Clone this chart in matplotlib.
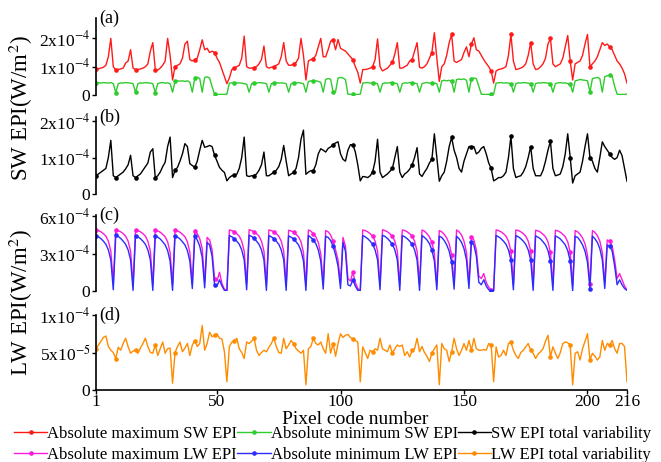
import numpy as np
import matplotlib
matplotlib.use('Agg')
import matplotlib.pyplot as plt

plt.rcParams['font.family'] = ['Liberation Serif', 'DejaVu Serif']
plt.rcParams['mathtext.fontset'] = 'stix'

# pixel code numbers 1..216
pixel = np.arange(1, 217)

# SW EPI, units of 1e-4 W/m2
sw_max = [
    0.92, 0.93, 0.95, 0.98, 1.05, 1.35, 2.00, 1.00, 0.88, 0.90,
    0.92, 0.95, 1.13, 1.20, 1.60, 0.95, 0.90, 0.90, 0.92, 0.95,
    1.00, 1.10, 1.55, 1.85, 0.90, 0.88, 0.95, 1.05, 1.20, 2.00,
    1.40, 0.53, 1.00, 1.05, 1.10, 1.30, 1.80, 1.90, 1.25, 1.20,
    1.25, 1.30, 1.60, 1.95, 1.60, 1.65, 1.50, 1.55, 1.50, 1.30,
    1.15, 0.90, 0.65, 0.40,
    0.60, 0.90, 0.95, 1.00, 1.05, 1.30, 2.08, 1.00, 0.95, 0.95,
    0.97, 1.00, 1.10, 1.25, 1.73, 1.00, 0.95, 0.98, 1.00, 1.05,
    1.10, 1.35, 1.85, 1.20, 1.05, 1.05, 1.10, 1.15, 1.30, 2.00,
    1.40, 0.53, 1.20, 1.25, 1.28, 1.40, 1.70, 2.00, 1.35, 1.35,
    1.60, 1.90, 1.95, 1.60, 1.96, 1.65, 1.60, 1.55, 1.45, 1.35,
    1.25, 1.00, 0.80, 0.42,
    0.90, 0.90, 0.92, 0.95, 1.00, 1.25, 1.98, 1.00, 0.85, 0.90,
    0.95, 1.05, 1.15, 1.45, 1.85, 0.95, 0.95, 1.00, 1.05, 1.20,
    1.25, 1.55, 1.85, 0.98, 0.95, 1.00, 1.10, 1.30, 1.50, 2.20,
    1.30, 0.48, 1.00, 1.10, 1.40, 1.85, 2.14, 1.20, 1.15, 1.20,
    1.25, 1.50, 1.70, 1.35, 1.80, 2.02, 1.60, 1.55, 1.40, 1.25,
    1.12, 1.00, 0.85, 0.42,
    0.85, 0.90, 0.92, 0.95, 1.00, 1.40, 2.14, 1.20, 0.90, 0.92,
    0.95, 1.00, 1.10, 1.40, 1.85, 1.10, 0.90, 0.92, 1.00, 1.10,
    1.30, 1.80, 2.00, 1.10, 1.00, 1.05, 1.10, 1.30, 1.70, 2.10,
    1.20, 0.53, 1.10, 1.15, 1.20, 1.40, 1.80, 2.14, 1.00, 1.10,
    1.20, 1.35, 1.60, 1.85, 1.75, 1.80, 1.70, 1.60, 1.40, 1.20,
    1.10, 0.95, 0.75, 0.42,
]
sw_min = [
    0.42, 0.43, 0.42, 0.44, 0.43, 0.42, 0.44, 0.40, 0.08, 0.40,
    0.43, 0.42, 0.44, 0.43, 0.42, 0.40, 0.10, 0.40, 0.43, 0.42,
    0.44, 0.43, 0.42, 0.40, 0.08, 0.40, 0.43, 0.44, 0.42, 0.43,
    0.40, 0.10, 0.48, 0.50, 0.49, 0.50, 0.48, 0.50, 0.45, 0.10,
    0.60, 0.63, 0.58, 0.10, 0.62, 0.64, 0.60, 0.30, 0.03, 0.02,
    0.02, 0.02, 0.02, 0.03,
    0.42, 0.43, 0.44, 0.42, 0.43, 0.42, 0.40, 0.38, 0.10, 0.40,
    0.43, 0.42, 0.44, 0.43, 0.42, 0.40, 0.10, 0.40, 0.43, 0.44,
    0.42, 0.43, 0.42, 0.40, 0.10, 0.40, 0.43, 0.42, 0.44, 0.42,
    0.40, 0.10, 0.48, 0.50, 0.49, 0.50, 0.48, 0.45, 0.10, 0.55,
    0.58, 0.56, 0.10, 0.12, 0.60, 0.62, 0.60, 0.55, 0.03, 0.02,
    0.02, 0.02, 0.02, 0.03,
    0.42, 0.43, 0.44, 0.42, 0.43, 0.42, 0.40, 0.10, 0.40, 0.43,
    0.42, 0.44, 0.43, 0.42, 0.40, 0.10, 0.40, 0.43, 0.42, 0.44,
    0.43, 0.42, 0.40, 0.10, 0.40, 0.43, 0.44, 0.42, 0.43, 0.42,
    0.40, 0.10, 0.50, 0.52, 0.50, 0.52, 0.48, 0.10, 0.55, 0.56,
    0.55, 0.57, 0.52, 0.10, 0.58, 0.60, 0.58, 0.30, 0.03, 0.02,
    0.02, 0.02, 0.02, 0.03,
    0.42, 0.43, 0.44, 0.42, 0.43, 0.42, 0.40, 0.10, 0.40, 0.43,
    0.42, 0.44, 0.43, 0.42, 0.40, 0.10, 0.40, 0.43, 0.42, 0.44,
    0.43, 0.42, 0.40, 0.10, 0.40, 0.43, 0.44, 0.42, 0.43, 0.40,
    0.38, 0.10, 0.50, 0.52, 0.55, 0.53, 0.52, 0.50, 0.10, 0.58,
    0.60, 0.62, 0.58, 0.10, 0.65, 0.68, 0.70, 0.66, 0.30, 0.03,
    0.02, 0.02, 0.02, 0.03,
]
sw_var = [
    0.50, 0.55, 0.60, 0.65, 0.70, 1.00, 1.47, 0.50, 0.45, 0.50,
    0.55, 0.60, 0.69, 0.80, 1.06, 0.50, 0.45, 0.50, 0.55, 0.65,
    0.75, 0.85, 1.15, 1.24, 0.45, 0.50, 0.60, 0.75, 0.87, 1.30,
    1.56, 0.45, 0.65, 0.73, 0.90, 1.10, 1.38, 1.30, 0.83, 0.78,
    0.73, 0.90, 1.20, 1.47, 1.28, 1.30, 1.33, 1.30, 1.06, 0.90,
    0.73, 0.65, 0.59, 0.36,
    0.45, 0.50, 0.52, 0.54, 0.70, 1.00, 1.56, 0.50, 0.48, 0.50,
    0.50, 0.55, 0.65, 0.80, 1.15, 0.50, 0.50, 0.55, 0.59, 0.65,
    0.75, 0.95, 1.33, 0.90, 0.50, 0.55, 0.59, 0.70, 1.00, 1.50,
    1.75, 0.54, 0.60, 0.64, 0.64, 0.80, 1.10, 1.24, 1.20, 1.15,
    1.25, 1.29, 1.35, 1.40, 1.43, 1.10, 0.95, 0.90, 1.20, 1.35,
    1.35, 1.15, 0.80, 0.36,
    0.48, 0.47, 0.45, 0.50, 0.60, 0.90, 1.50, 0.60, 0.45, 0.50,
    0.55, 0.62, 0.70, 1.00, 1.30, 0.60, 0.45, 0.55, 0.60, 0.68,
    0.80, 1.00, 1.27, 0.55, 0.48, 0.60, 0.70, 0.85, 0.95, 1.65,
    1.00, 0.35, 0.50, 0.60, 0.90, 1.30, 1.55, 1.20, 1.00, 0.70,
    0.60, 0.90, 1.10, 1.30, 1.30, 1.30, 1.10, 1.15, 1.25, 1.30,
    1.10, 0.85, 0.70, 0.36,
    0.40, 0.45, 0.45, 0.50, 0.60, 1.00, 1.58, 0.70, 0.45, 0.48,
    0.50, 0.60, 0.75, 1.00, 1.30, 0.70, 0.50, 0.50, 0.50, 0.65,
    0.90, 1.20, 1.45, 0.70, 0.50, 0.52, 0.55, 0.75, 1.10, 1.65,
    1.00, 0.30, 0.50, 0.55, 0.60, 0.90, 1.30, 1.65, 1.00, 0.90,
    0.70, 0.60, 1.00, 1.43, 1.30, 1.20, 1.10, 1.00, 0.95, 1.00,
    1.20, 1.05, 0.70, 0.35,
]

# LW EPI, units of 1e-4 W/m2
lw_max = [
    4.90, 4.85, 4.75, 4.60, 4.40, 4.00, 3.20, 0.60,
    4.92, 4.85, 4.75, 4.60, 4.40, 4.00, 3.20, 0.50,
    4.90, 4.85, 4.75, 4.60, 4.40, 4.00, 3.20, 0.50,
    4.88, 4.82, 4.72, 4.55, 4.35, 3.95, 3.10, 0.50,
    4.88, 4.82, 4.72, 4.55, 4.35, 3.95, 3.10, 0.60,
    4.85, 4.60, 4.20, 3.40, 0.70,
    4.30, 4.10, 3.30, 1.00, 0.80, 1.50, 0.60, 0.15, 0.05,
    4.90, 4.85, 4.75, 4.60, 4.40, 4.00, 3.20, 0.55,
    4.92, 4.85, 4.75, 4.60, 4.40, 4.00, 3.20, 0.50,
    4.90, 4.85, 4.75, 4.60, 4.40, 4.00, 3.20, 0.50,
    4.88, 4.82, 4.72, 4.55, 4.35, 3.95, 3.10, 0.45,
    4.90, 4.80, 4.60, 4.35, 3.90, 3.00, 0.55,
    4.85, 4.75, 4.50, 4.00, 3.30, 2.50, 0.60,
    4.30, 3.60, 1.00, 0.80, 1.50, 0.70, 0.20, 0.05,
    4.90, 4.85, 4.75, 4.60, 4.40, 4.00, 3.20, 0.50,
    4.92, 4.85, 4.75, 4.60, 4.40, 4.00, 3.20, 0.50,
    4.90, 4.85, 4.75, 4.60, 4.40, 4.00, 3.20, 0.50,
    4.90, 4.80, 4.60, 4.35, 3.90, 3.00, 0.50,
    4.85, 4.75, 4.55, 4.25, 3.80, 2.90, 0.55,
    4.90, 4.75, 4.50, 4.00, 3.10, 0.60,
    4.30, 4.10, 3.30, 1.20, 1.00, 1.40, 0.70, 0.30, 0.10, 0.05,
    4.90, 4.85, 4.75, 4.60, 4.40, 4.00, 3.20, 0.50,
    4.90, 4.85, 4.75, 4.60, 4.40, 4.00, 3.20, 0.50,
    4.88, 4.82, 4.72, 4.55, 4.35, 3.95, 3.10, 0.50,
    4.88, 4.82, 4.72, 4.55, 4.35, 3.95, 3.10, 0.45,
    4.85, 4.75, 4.55, 4.25, 3.80, 2.90, 0.55,
    4.85, 4.70, 4.45, 4.00, 3.10, 0.60,
    4.10, 4.00, 3.60, 2.50, 1.00, 1.40, 0.90, 0.40, 0.10,
]
lw_min = [
    4.45, 4.35, 4.20, 4.00, 3.75, 3.30, 2.50, 0.10,
    4.48, 4.38, 4.22, 4.00, 3.75, 3.30, 2.50, 0.05,
    4.45, 4.35, 4.20, 4.00, 3.75, 3.30, 2.50, 0.05,
    4.42, 4.32, 4.18, 3.95, 3.70, 3.25, 2.40, 0.05,
    4.42, 4.32, 4.18, 3.95, 3.70, 3.25, 2.40, 0.20,
    4.40, 4.10, 3.60, 2.70, 0.25,
    3.90, 3.70, 2.80, 0.50, 0.40, 0.90, 0.40, 0.05, 0.00,
    4.45, 4.35, 4.20, 4.00, 3.75, 3.30, 2.50, 0.10,
    4.48, 4.38, 4.22, 4.00, 3.75, 3.30, 2.50, 0.05,
    4.45, 4.35, 4.20, 4.00, 3.75, 3.30, 2.50, 0.05,
    4.42, 4.32, 4.18, 3.95, 3.70, 3.25, 2.40, 0.05,
    4.45, 4.30, 4.10, 3.80, 3.30, 2.40, 0.15,
    4.40, 4.30, 4.05, 3.60, 2.90, 2.00, 0.20,
    3.90, 3.20, 0.50, 0.40, 0.90, 0.40, 0.05, 0.00,
    4.45, 4.35, 4.20, 4.00, 3.75, 3.30, 2.50, 0.10,
    4.48, 4.38, 4.22, 4.00, 3.75, 3.30, 2.50, 0.05,
    4.45, 4.35, 4.20, 4.00, 3.75, 3.30, 2.50, 0.05,
    4.45, 4.30, 4.10, 3.80, 3.30, 2.40, 0.10,
    4.40, 4.30, 4.05, 3.70, 3.20, 2.30, 0.15,
    4.40, 4.20, 3.90, 3.40, 2.50, 0.20,
    3.90, 3.70, 2.80, 0.70, 0.50, 0.90, 0.40, 0.10, 0.02, 0.00,
    4.45, 4.35, 4.20, 4.00, 3.75, 3.30, 2.50, 0.10,
    4.45, 4.35, 4.20, 4.00, 3.75, 3.30, 2.50, 0.05,
    4.42, 4.32, 4.18, 3.95, 3.70, 3.25, 2.40, 0.05,
    4.42, 4.32, 4.18, 3.95, 3.70, 3.25, 2.40, 0.00,
    4.40, 4.30, 4.05, 3.70, 3.20, 2.30, 0.15,
    4.40, 4.20, 3.90, 3.40, 2.50, 0.20,
    3.70, 3.60, 3.20, 2.00, 0.50, 0.90, 0.50, 0.20, 0.05,
]
# LW EPI total variability, units of 1e-5 W/m2
lw_var = [
    5.5, 6.0, 6.5, 7.0, 7.2, 5.8, 5.3, 5.0, 4.2, 5.7,
    5.3, 6.2, 6.9, 5.8, 4.9, 5.2, 5.3, 4.9, 5.6, 6.2,
    6.9, 5.8, 5.0, 4.9, 6.0, 4.6, 5.5, 6.4, 4.9, 5.5,
    5.6, 0.9, 5.0, 5.8, 6.4, 5.1, 5.6, 6.2, 4.6, 6.0,
    6.6, 5.8, 6.2, 8.6, 5.3, 6.2, 7.7, 7.1, 7.3, 7.5,
    6.9, 6.8, 5.1, 1.1,
    5.8, 6.4, 6.5, 6.9, 5.5, 5.0, 4.2, 6.4, 6.2, 6.5,
    6.9, 5.3, 4.6, 5.0, 5.3, 5.1, 5.7, 6.2, 6.9, 5.8,
    5.0, 4.9, 6.9, 5.5, 6.0, 6.6, 6.2, 5.5, 5.2, 4.9,
    5.3, 0.7, 5.5, 5.8, 6.9, 6.2, 6.0, 6.4, 5.5, 4.9,
    7.5, 4.9, 6.2, 4.5, 6.2, 7.5, 7.0, 7.3, 7.4, 7.0,
    6.8, 6.6, 6.4, 1.1,
    5.75, 5.0, 4.2, 5.3, 5.1, 5.5, 5.3, 6.9, 5.5, 5.3,
    5.1, 6.0, 4.9, 5.5, 6.0, 5.8, 6.0, 4.6, 5.1, 4.4,
    5.3, 5.5, 6.9, 5.1, 5.8, 5.0, 4.5, 3.8, 4.9, 5.5,
    6.0, 0.7, 6.2, 5.5, 5.3, 3.8, 5.1, 6.9, 5.5, 4.6,
    5.3, 6.2, 5.3, 6.6, 5.3, 6.9, 5.5, 5.3, 5.3, 5.4,
    5.3, 6.2, 6.0, 1.1,
    5.75, 4.4, 4.6, 5.3, 4.6, 6.2, 6.4, 5.3, 4.6, 4.2,
    5.0, 5.3, 5.75, 6.2, 5.3, 4.9, 4.2, 4.8, 5.1, 5.5,
    6.5, 7.3, 4.4, 5.75, 4.9, 4.2, 5.0, 6.2, 6.4, 6.3,
    6.0, 0.7, 4.9, 5.1, 4.0, 5.5, 6.5, 7.5, 4.0, 4.9,
    4.5, 4.0, 4.4, 6.6, 5.3, 6.2, 6.0, 6.6, 5.5, 4.9,
    6.2, 6.2, 5.8, 1.1,
]

x_ticks = [1, 50, 100, 150, 200, 216]

W, H = 661, 462
fig = plt.figure(figsize=(W / 100, H / 100), dpi=100)


def make_axes(top, bottom):
    return fig.add_axes([96 / W, 1 - bottom / H, 531 / W, (bottom - top) / H])


ax_a = make_axes(18, 95)
ax_b = make_axes(117, 194)
ax_c = make_axes(215, 291)
ax_d = make_axes(315, 390)

kw = dict(lw=1.0, marker='o', markersize=2.3, markevery=8)

la1, = ax_a.plot(pixel, np.array(sw_max) * 1e-4, color='#ff1a1a', **kw)
la2, = ax_a.plot(pixel, np.array(sw_min) * 1e-4, color='#2ecc2e', **kw)
lb, = ax_b.plot(pixel, np.array(sw_var) * 1e-4, color='black', **kw)
lc1, = ax_c.plot(pixel, np.array(lw_max) * 1e-4, color='#ff1ad9', **kw)
lc2, = ax_c.plot(pixel, np.array(lw_min) * 1e-4, color='#2b2bff', **kw)
ld, = ax_d.plot(pixel, np.array(lw_var) * 1e-5, color='#ff8c00', **kw)

ax_a.set_ylim(0, 2.72e-4)
ax_a.set_yticks([0, 1e-4, 2e-4])
ax_a.set_yticklabels(['0', '1x10$^{-4}$', '2x10$^{-4}$'])
ax_b.set_ylim(0, 2.11e-4)
ax_b.set_yticks([0, 1e-4, 2e-4])
ax_b.set_yticklabels(['0', '1x10$^{-4}$', '2x10$^{-4}$'])
ax_c.set_ylim(0, 6.1e-4)
ax_c.set_yticks([0, 3e-4, 6e-4])
ax_c.set_yticklabels(['0', '3x10$^{-4}$', '6x10$^{-4}$'])
ax_d.set_ylim(0, 1e-4)
ax_d.set_yticks([0, 5e-5, 1e-4])
ax_d.set_yticklabels(['0', '5x10$^{-5}$', '1x10$^{-4}$'])

for ax, lab in zip([ax_a, ax_b, ax_c, ax_d], ['(a)', '(b)', '(c)', '(d)']):
    ax.set_xlim(1, 216)
    ax.patch.set_alpha(0)
    for s in ['top', 'right']:
        ax.spines[s].set_visible(False)
    ax.spines['left'].set_linewidth(1.2)
    ax.tick_params(axis='y', direction='out', length=3, width=1, labelsize=12.5, pad=1)
    ax.text(0.006, 1.0, lab, transform=ax.transAxes, fontsize=13, va='center', ha='left')
    if ax is not ax_d:
        ax.spines['bottom'].set_visible(False)
        ax.set_xticks([])

ax_d.spines['bottom'].set_linewidth(1.2)
ax_d.set_xticks(x_ticks)
ax_d.tick_params(axis='x', direction='out', length=3, width=1, labelsize=12.5, pad=0)

fig.text(355 / W, 1 - 419 / H, 'Pixel code number', fontsize=14, ha='center', va='center')
fig.text(21 / W, 1 - 108 / H, 'SW EPI(W/m$^2$)', fontsize=16.5, rotation=90, ha='center', va='center')
fig.text(21 / W, 1 - 303 / H, 'LW EPI(W/m$^2$)', fontsize=16.5, rotation=90, ha='center', va='center')

handles = [la1, lc1, la2, lc2, lb, ld]
labels = ['Absolute maximum SW EPI', 'Absolute maximum LW EPI',
          'Absolute minimum SW EPI', 'Absolute minimum LW EPI',
          'SW EPI total variability', 'LW EPI total variability']
fig.legend(handles, labels, ncol=3, loc='upper left', bbox_to_anchor=(14 / W, 1 - 426 / H),
           frameon=False, fontsize=12, handlelength=2.0, handletextpad=0.0,
           columnspacing=0.0, labelspacing=0.3, borderpad=0, borderaxespad=0)

fig.savefig('out.png', dpi=100)
